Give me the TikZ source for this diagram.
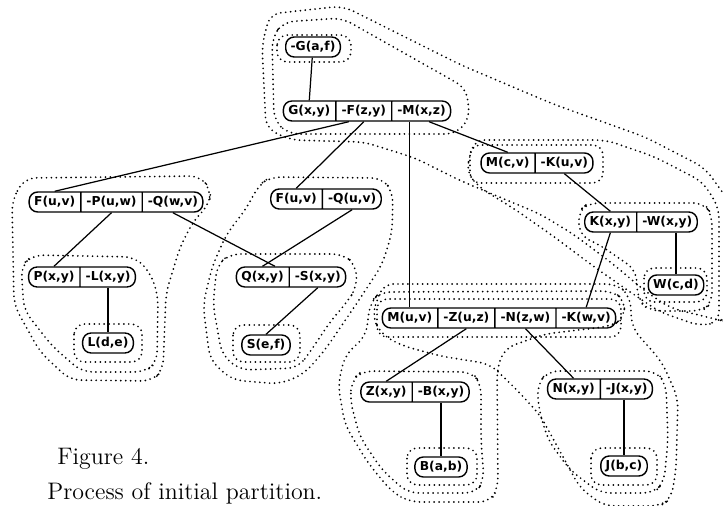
\documentclass[tikz,border=0pt]{standalone}
\usepackage{fontspec}
\newfontfamily\litfont{DejaVu Sans}
\usetikzlibrary{shapes.multipart}

\begin{document}
\begin{tikzpicture}[
x=0.02cm, y=-0.02cm,
pill/.style={
    draw,
    thick,
    rounded corners=0.17cm,
    minimum height=0.4cm,
    text height=5.4pt,
    text depth=1.6pt,
    inner xsep=2.8pt,
    inner ysep=2pt,
    font=\litfont\bfseries\fontsize{7}{8}\selectfont
},
clause/.style={
    pill,
    rectangle split,
    rectangle split horizontal
},
link/.style={line width=0.7pt},
zone/.style={
    line width=1.1pt,
    dash pattern=on 0pt off 2.8pt,
    line cap=round,
    rounded corners=6pt
},
figtext/.style={
    anchor=base west,
    inner sep=0pt,
    font=\fontsize{13.6}{16}\selectfont
}
]
\useasboundingbox (0,0) rectangle (723,506);

\node (goal) [pill] at (313,47) {-G(a,f)};
\node (gxy) [clause, rectangle split parts=3] at (367,111)
{G(x,y)\nodepart{two}-F(z,y)\nodepart{three}-M(x,z)};

\node (fpq) [clause, rectangle split parts=3] at (116,202)
{F(u,v)\nodepart{two}-P(u,w)\nodepart{three}-Q(w,v)};
\node (fq) [clause, rectangle split parts=2] at (326,199)
{F(u,v)\nodepart{two}-Q(u,v)};
\node (mk) [clause, rectangle split parts=2] at (537,163)
{M(c,v)\nodepart{two}-K(u,v)};
\node (kw) [clause, rectangle split parts=2] at (641,222)
{K(x,y)\nodepart{two}-W(x,y)};
\node (wcd) [pill] at (676,285) {W(c,d)};

\node (pl) [clause, rectangle split parts=2] at (82,277)
{P(x,y)\nodepart{two}-L(x,y)};
\node (lde) [pill] at (108,343) {L(d,e)};
\node (qs) [clause, rectangle split parts=2] at (291,277)
{Q(x,y)\nodepart{two}-S(x,y)};
\node (sef) [pill] at (266,345) {S(e,f)};

\node (mznk) [clause, rectangle split parts=4] at (499,318)
{M(u,v)\nodepart{two}-Z(u,z)\nodepart{three}-N(z,w)\nodepart{four}-K(w,v)};
\node (zb) [clause, rectangle split parts=2] at (415,392)
{Z(x,y)\nodepart{two}-B(x,y)};
\node (nj) [clause, rectangle split parts=2] at (600,389)
{N(x,y)\nodepart{two}-J(x,y)};
\node (bab) [pill] at (441,467) {B(a,b)};
\node (jbc) [pill] at (624,466) {J(b,c)};

\draw[link] (goal) -- (gxy.one north);
\draw[link] ([xshift=-0.3cm]gxy.two south) -- (fpq.one north);
\draw[link] (gxy.two south) -- (fq.one north);
\draw[link] (mznk.one north) -- (mznk.one north |- gxy.south);
\draw[link] ([xshift=0.15cm]gxy.three south) -- (mk.one north);
\draw[link] (mk.two south) -- (kw.one north);
\draw[link] (wcd.north |- kw.south) -- (wcd.north);
\draw[link] (kw.one south) -- (mznk.four north);
\draw[link] (mznk.two south) -- (zb.one north);
\draw[link] (mznk.three south) -- (nj.one north);
\draw[link] (bab.north |- zb.south) -- (bab.north);
\draw[link] (jbc.north |- nj.south) -- (jbc.north);
\draw[link] (fpq.two south) -- (pl.one north);
\draw[link] (fpq.three south) -- ([xshift=0.25cm]qs.one north);
\draw[link] (fq.two south) -- (qs.one north);
\draw[link] (lde.north |- pl.south) -- (lde.north);
\draw[link] (qs.two south) -- (sef.north);

% partitions, top and right
\draw[zone] (277,35) rectangle (351,62);
\draw[zone] (272,38) -- (283,22) -- (342,18) -- (466,88) -- (470,118) -- (456,134)
  -- (288,134) -- (274,120) -- cycle;
\draw[zone] (262,45) -- (270,14) -- (343,6) -- (461,65) -- (553,104) -- (645,137)
  -- (705,168) -- (728,200) -- (728,322) -- (719,320) -- (670,308) -- (645,291)
  -- (613,264) -- (573,234) -- (540,214) -- (461,181) -- (415,158) -- (364,142)
  -- (290,140) -- (266,128) -- cycle;
\draw[zone] (470,145) rectangle (603,183);
\draw[zone] (466,172) -- (474,140) -- (606,140) -- (655,157) -- (703,182) -- (719,208)
  -- (719,322) -- (700,326) -- (660,312) -- (633,294) -- (593,266) -- (553,236)
  -- (513,208) -- (480,188) -- cycle;
\draw[zone] (578,212) -- (588,203) -- (704,203) -- (712,215) -- (712,303) -- (702,311)
  -- (650,311) -- (638,300) -- (636,270) -- (600,245) -- (580,236) -- cycle;
\draw[zone] (644,268) rectangle (707,302);

% partitions, left
\draw[zone] (12,200) -- (25,178) -- (200,176) -- (211,190) -- (209,205) -- (194,220)
  -- (180,247) -- (166,293) -- (163,370) -- (152,381) -- (70,380) -- (40,352)
  -- (14,305) -- cycle;
\draw[zone] (21,266) -- (33,255) -- (135,257) -- (150,272) -- (158,295) -- (157,362)
  -- (145,372) -- (82,372) -- (52,346) -- (24,310) -- cycle;
\draw[zone] (74,324) rectangle (142,362);
\draw[zone] (258,186) -- (270,177) -- (382,178) -- (393,192) -- (392,233) -- (382,265)
  -- (357,303) -- (325,350) -- (304,374) -- (280,384) -- (232,380) -- (210,360)
  -- (203,305) -- (212,267) -- (226,235) -- (248,206) -- cycle;
\draw[zone] (217,265) -- (230,254) -- (343,254) -- (356,265) -- (357,287) -- (347,302)
  -- (330,322) -- (310,352) -- (298,368) -- (240,370) -- (222,355) -- (213,305) -- cycle;
\draw[zone] (233,325) rectangle (300,362);

% partitions, bottom
\draw[zone] (377,299) rectangle (621,337);
\draw[zone] (370,303) -- (380,292) -- (612,291) -- (625,300) -- (624,318) -- (612,326)
  -- (545,334) -- (505,348) -- (497,368) -- (498,488) -- (490,502) -- (410,502)
  -- (392,492) -- (368,463) -- (345,425) -- (338,385) -- (345,355) -- (366,336) -- cycle;
\draw[zone] (352,380) -- (362,371) -- (472,372) -- (481,384) -- (481,440) -- (484,480)
  -- (476,493) -- (408,493) -- (382,470) -- (360,437) -- (350,400) -- cycle;
\draw[zone] (407,448) rectangle (477,485);
\draw[zone] (372,315) -- (383,284) -- (617,284) -- (630,296) -- (632,328) -- (662,362)
  -- (678,398) -- (676,470) -- (671,499) -- (660,506) -- (604,506) -- (580,488)
  -- (562,455) -- (540,415) -- (517,390) -- (490,364) -- (440,356) -- (400,345)
  -- (380,333) -- cycle;
\draw[zone] (537,385) -- (548,371) -- (656,371) -- (666,384) -- (668,440) -- (664,482)
  -- (654,493) -- (600,493) -- (570,470) -- (548,440) -- (539,410) -- cycle;
\draw[zone] (591,448) rectangle (657,485);

\node (fig) [figtext] at (57,464) {Figure 4.};
\node (proc) [figtext] at (47,499) {Process of initial partition.};

\end{tikzpicture}
\end{document}
